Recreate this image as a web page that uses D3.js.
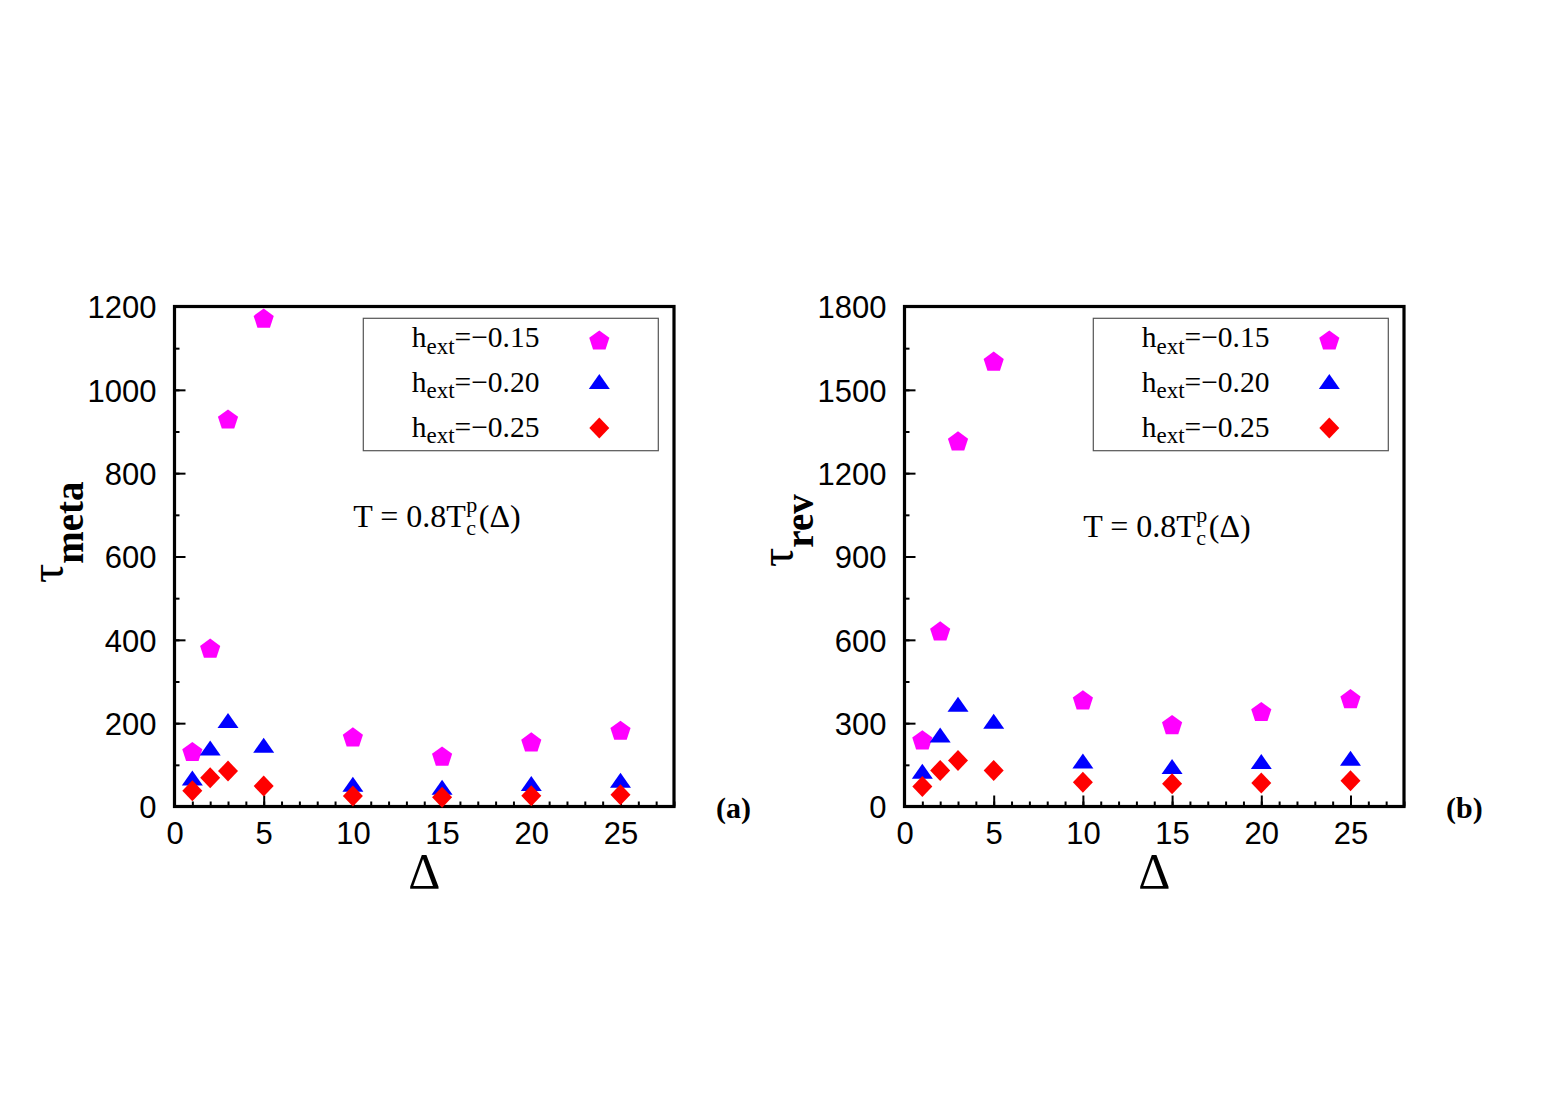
<!DOCTYPE html>
<html>
<head>
<meta charset="utf-8">
<script src="https://cdn.jsdelivr.net/npm/d3@7"></script>
<style>
html,body{margin:0;padding:0;background:#fff;}
svg{display:block;}
</style>
</head>
<body>
<svg id="chart" width="1553" height="1097"></svg>
<script>
// ---------- data ----------
const deltas = [1, 2, 3, 5, 10, 15, 20, 25];
const seriesNames = ["\u22120.15", "\u22120.20", "\u22120.25"];
const seriesColors = ["#ff00ff", "#0000ff", "#ff0000"];
const seriesShapes = ["pentagon", "triangle", "diamond"];

const metaH015 = [132, 380, 930, 1172, 167, 121, 155, 183];
const metaH020 = [67, 139, 205, 146, 52, 45, 54, 62];
const metaH025 = [38, 69, 85, 49, 25, 22, 26, 28];

const revH015 = [240, 632, 1316, 1603, 384, 295, 342, 388];
const revH020 = [125, 256, 366, 305, 162, 142, 160, 172];
const revH025 = [72, 130, 166, 130, 87, 82, 85, 93];

const xTicks = [0, 5, 10, 15, 20, 25];
const xMinorTicks = d3.range(0, 29, 1);
const metaYTicks = [0, 200, 400, 600, 800, 1000, 1200];
const metaYMinor = d3.range(0, 1201, 100);
const revYTicks = [0, 300, 600, 900, 1200, 1500, 1800];
const revYMinor = d3.range(0, 1801, 150);

const panels = [
  { left: 174.5, yMax: 1200, yTicks: metaYTicks, yMinor: metaYMinor,
    series: [metaH015, metaH020, metaH025], ylabel: "meta", tag: "(a)",
    ylabX: 63, ylabY: 583, annY: 526.7 },
  { left: 904.5, yMax: 1800, yTicks: revYTicks, yMinor: revYMinor,
    series: [revH015, revH020, revH025], ylabel: "rev", tag: "(b)",
    ylabX: 793, ylabY: 567, annY: 536.7 }
];

// ---------- layout ----------
const W = 499.5, TOP = 306.5, BOTTOM = 806.5;
const serif = "'Liberation Serif','Times New Roman',serif";
const sans = "'Liberation Sans',Arial,Helvetica,sans-serif";

const svg = d3.select("#chart");
svg.append("rect").attr("width", 1553).attr("height", 1097).attr("fill", "#fff");

function shapePath(kind) {
  if (kind === "pentagon") {
    const r = 10.6, pts = [];
    for (let i = 0; i < 5; i++) {
      const a = -Math.PI / 2 + i * 2 * Math.PI / 5;
      pts.push([r * Math.cos(a), r * Math.sin(a) + 1]);
    }
    return "M" + pts.map(p => p.join(",")).join("L") + "Z";
  }
  if (kind === "triangle") return "M0,-8L10.5,7L-10.5,7Z";
  return "M0,-10.5L10,0L0,10.5L-10,0Z";
}

panels.forEach(p => {
  const g = svg.append("g");
  const x = d3.scaleLinear().domain([0, 28]).range([p.left, p.left + W]);
  const y = d3.scaleLinear().domain([0, p.yMax]).range([BOTTOM, TOP]);

  // minor ticks
  const xMinorAxis = d3.axisBottom(x).tickValues(xMinorTicks).tickSize(-5).tickFormat("");
  const gxm = g.append("g").attr("transform", `translate(0,${BOTTOM})`).call(xMinorAxis);
  const yMinorAxis = d3.axisLeft(y).tickValues(p.yMinor).tickSize(-5).tickFormat("");
  const gym = g.append("g").attr("transform", `translate(${p.left},0)`).call(yMinorAxis);

  // major ticks
  const xAxis = d3.axisBottom(x).tickValues(xTicks).tickSize(-11).tickPadding(15).tickFormat(d3.format("d"));
  const gx = g.append("g").attr("transform", `translate(0,${BOTTOM})`).call(xAxis);
  const yAxis = d3.axisLeft(y).tickValues(p.yTicks).tickSize(-11).tickPadding(18).tickFormat(d3.format("d"));
  const gy = g.append("g").attr("transform", `translate(${p.left},0)`).call(yAxis);

  [gxm, gym, gx, gy].forEach(a => {
    a.select(".domain").remove();
    a.selectAll(".tick line").attr("stroke", "#000").attr("stroke-width", 2);
    a.selectAll(".tick text").attr("fill", "#000").style("font-family", sans).style("font-size", "31px");
  });
  gy.selectAll(".tick text").attr("dy", "0.36em");

  // frame
  g.append("rect").attr("x", p.left).attr("y", TOP).attr("width", W).attr("height", BOTTOM - TOP)
    .attr("fill", "none").attr("stroke", "#000").attr("stroke-width", 3.2);

  // legend
  const lx = p.left + 188.8, ly = 318.3;
  g.append("rect").attr("x", lx).attr("y", ly).attr("width", 295).attr("height", 132.4)
    .attr("fill", "#fff").attr("stroke", "#555").attr("stroke-width", 1.2);
  const rowBase = [347.3, 391.8, 436.5];
  const rowMark = [340, 382, 428];
  seriesNames.forEach((name, i) => {
    const t = g.append("text").attr("x", p.left + 237.2).attr("y", rowBase[i])
      .style("font-family", serif).style("font-size", "29.5px").attr("fill", "#000");
    t.append("tspan").text("h");
    t.append("tspan").attr("dy", 6.5).style("font-size", "23px").text("ext");
    t.append("tspan").attr("dy", -6.5).text("=" + name);
    g.append("path").attr("d", shapePath(seriesShapes[i]))
      .attr("transform", `translate(${p.left + 424.8},${rowMark[i]})`)
      .attr("fill", seriesColors[i]);
  });

  // data points
  p.series.forEach((vals, i) => {
    g.append("g").selectAll("path").data(deltas.map((d, k) => [d, vals[k]])).join("path")
      .attr("d", shapePath(seriesShapes[i]))
      .attr("transform", d => `translate(${x(d[0])},${y(d[1])})`)
      .attr("fill", seriesColors[i]);
  });

  // annotation T = 0.8 T_c^p(Δ) as one text element
  const ax = p.left + 178.8, ay = p.annY;
  const ann = g.append("text").attr("x", ax).attr("y", ay)
    .style("font-family", serif).style("font-size", "32px").attr("fill", "#000")
    .attr("xml:space", "preserve");
  ann.append("tspan").text("T = 0.8T");
  const cSpan = ann.append("tspan").attr("dx", 0.5).attr("dy", 8.5).style("font-size", "22px").text("c");
  const cw = cSpan.node().getComputedTextLength();
  const pSpan = ann.append("tspan").attr("dx", -cw).attr("dy", -23).style("font-size", "22px").text("p");
  const pw = pSpan.node().getComputedTextLength();
  ann.append("tspan").attr("dx", Math.max(0, cw - pw) + 1.5).attr("dy", 14.5).text("(\u0394)");

  // x label
  g.append("text").attr("x", p.left + W / 2).attr("y", 887.5).attr("text-anchor", "middle")
    .style("font-family", serif).style("font-size", "50px").attr("fill", "#000").text("\u0394");

  // y label
  const yl = g.append("text").attr("transform", `translate(${p.ylabX},${p.ylabY}) rotate(-90)`)
    .style("font-family", serif).attr("fill", "#000");
  yl.append("tspan").style("font-size", "48px").text("\u03c4");
  yl.append("tspan").attr("dy", 20).style("font-size", "39px").style("font-weight", "bold").text(p.ylabel);

  // panel tag
  g.append("text").attr("x", p.left + 541.5).attr("y", 818)
    .style("font-family", serif).style("font-size", "30px").style("font-weight", "bold")
    .attr("fill", "#000").text(p.tag);
});
</script>
</body>
</html>
